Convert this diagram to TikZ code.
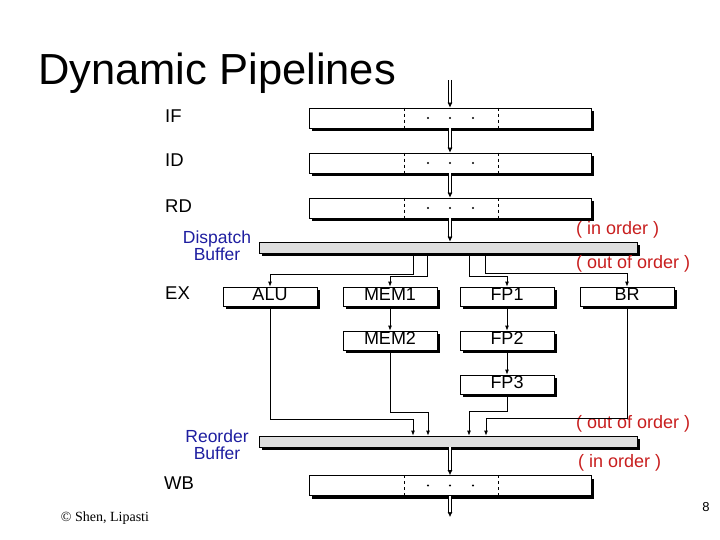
\documentclass[tikz,border=0pt]{standalone}
\usepackage{fontspec}
\setmainfont{Liberation Sans}
\newfontfamily\timesfont{Liberation Serif}
\usetikzlibrary{arrows.meta,shadows}
\definecolor{bufblue}{RGB}{30,30,160}
\definecolor{ordred}{RGB}{200,30,30}

\begin{document}
\begin{tikzpicture}[x=1pt,y=-1pt,
    latch/.style={draw, fill=white, line width=0.8pt, inner sep=0pt,
        minimum width=282pt, minimum height=20pt,
        drop shadow={shadow xshift=3pt, shadow yshift=-3pt, fill=black, opacity=1}},
    fu/.style={latch, minimum width=94pt, minimum height=19pt,
        text height=12.5pt, text depth=5pt, font=\fontsize{18}{18}\selectfont},
    buffer/.style={latch, fill=black!13, minimum width=378pt, minimum height=11pt},
    stagelbl/.style={anchor=west, inner sep=0pt, font=\fontsize{18.5}{18.5}\selectfont},
    buflbl/.style={align=center, inner sep=0pt, text=bufblue, font=\fontsize{17.5}{17}\selectfont},
    ordlbl/.style={anchor=west, inner sep=0pt, text=ordred, font=\fontsize{18}{18}\selectfont},
    wire/.style={line width=0.8pt, -{Latex[length=5pt,width=4pt]}},
    handoff/.style={double, double distance=2.5pt, line width=0.7pt, -{Latex[length=5pt,width=5pt]}},
    divider/.style={dash pattern=on 3pt off 3pt, line width=0.8pt},
]
        \useasboundingbox (0,0) rectangle (720,540);
        % title
        \node[anchor=base west, inner sep=0pt, font=\fontsize{43.5}{43.5}\selectfont] (title) at (38,85) {Dynamic Pipelines};
        % stage latches
        \node[latch] (if) at (450,118) {};
        \node[latch] (id) at (450,163) {};
        \node[latch] (rd) at (450,208) {};
        \node[latch] (wb) at (450,485.5) {};
        % stage labels
        \node[stagelbl] (if-lbl) at (165,116) {IF};
        \node[stagelbl] (id-lbl) at (165,160) {ID};
        \node[stagelbl] (rd-lbl) at (165,206) {RD};
        \node[stagelbl] (ex-lbl) at (165,293) {EX};
        \node[stagelbl] (wb-lbl) at (164,483) {WB};
        % buffers
        \node[buffer] (disp) at (448,247.5) {};
        \node[buffer] (rob)  at (448,441.5) {};
        \node[buflbl] (disp-lbl) at (217,246) {Dispatch\\Buffer};
        \node[buflbl] (rob-lbl)  at (217,444.5) {Reorder\\Buffer};
        \node[ordlbl] (disp-in)  at (576,230) {( in order )};
        \node[ordlbl] (disp-out) at (576,264) {( out of order )};
        \node[ordlbl] (rob-out)  at (576,424) {( out of order )};
        \node[ordlbl] (rob-in)   at (578,463) {( in order )};
        % functional units
        \node[fu] (alu)  at (270,296.5) {ALU};
        \node[fu] (mem1) at (390,296.5) {MEM1};
            \node[fu] (mem2) at (390,340.5) {MEM2};
        \node[fu] (fp1)  at (507,296.5) {FP1};
            \node[fu] (fp2)  at (507,340.5) {FP2};
                \node[fu] (fp3)  at (507,384.5) {FP3};
        \node[fu] (br)   at (627,296.5) {BR};
        % latch fields
        \draw[divider] ([xshift=-46pt]if.north) -- ([xshift=-46pt]if.south);
        \draw[divider] ([xshift=48pt]if.north)  -- ([xshift=48pt]if.south);
        \fill ([xshift=-22pt]if.center) circle (1.1) (if.center) circle (1.1) ([xshift=23pt]if.center) circle (1.1);
        \draw[divider] ([xshift=-46pt]id.north) -- ([xshift=-46pt]id.south);
        \draw[divider] ([xshift=48pt]id.north)  -- ([xshift=48pt]id.south);
        \fill ([xshift=-22pt]id.center) circle (1.1) (id.center) circle (1.1) ([xshift=23pt]id.center) circle (1.1);
        \draw[divider] ([xshift=-46pt]rd.north) -- ([xshift=-46pt]rd.south);
        \draw[divider] ([xshift=48pt]rd.north)  -- ([xshift=48pt]rd.south);
        \fill ([xshift=-22pt]rd.center) circle (1.1) (rd.center) circle (1.1) ([xshift=23pt]rd.center) circle (1.1);
        \draw[divider] ([xshift=-46pt]wb.north) -- ([xshift=-46pt]wb.south);
        \draw[divider] ([xshift=48pt]wb.north)  -- ([xshift=48pt]wb.south);
        \fill ([xshift=-22pt]wb.center) circle (1.1) (wb.center) circle (1.1) ([xshift=23pt]wb.center) circle (1.1);
        % in-order flow
        \coordinate (fetch)  at (450,80);
        \coordinate (retire) at (450,517);
        \draw[handoff] (fetch)   -- (if.north);
        \draw[handoff] (if.south) -- (id.north);
        \draw[handoff] (id.south) -- (rd.north);
        \draw[handoff] (rd.south) -- (rd.south |- disp.north);
        \draw[handoff] (wb.north |- rob.south) -- (wb.north);
        \draw[handoff] (wb.south) -- (retire);
        % dispatch
        \draw[wire] ([xshift=-35pt]disp.south) -- ++(0,21) -| (alu.north);
        \draw[wire] ([xshift=-21pt]disp.south) -- ++(0,23) -| (mem1.north);
        \draw[wire] ([xshift=21pt]disp.south)  -- ++(0,23) -| (fp1.north);
        \draw[wire] ([xshift=37pt]disp.south)  -- ++(0,20) -| (br.north);
        % pipelined units
        \draw[wire] (mem1) -- (mem2);
        \draw[wire] (fp1)  -- (fp2);
        \draw[wire] (fp2)  -- (fp3);
        % completion
        \draw[wire] (alu.south)  |- ([xshift=-35pt,yshift=16pt]rob.north) -- ([xshift=-35pt]rob.north);
        \draw[wire] (mem2.south) |- ([xshift=-20pt,yshift=23pt]rob.north) -- ([xshift=-20pt]rob.north);
        \draw[wire] (fp3.south)  |- ([xshift=21pt,yshift=24pt]rob.north)  -- ([xshift=21pt]rob.north);
        \draw[wire] (br.south)   |- ([xshift=38pt,yshift=17pt]rob.north)  -- ([xshift=38pt]rob.north);
        % footer
        \node[font=\timesfont\fontsize{14}{14}\selectfont] (credit) at (105,518) {© Shen, Lipasti};
        \node[font=\fontsize{13}{13}\selectfont] (page) at (706,507) {8};
\end{tikzpicture}
\end{document}
